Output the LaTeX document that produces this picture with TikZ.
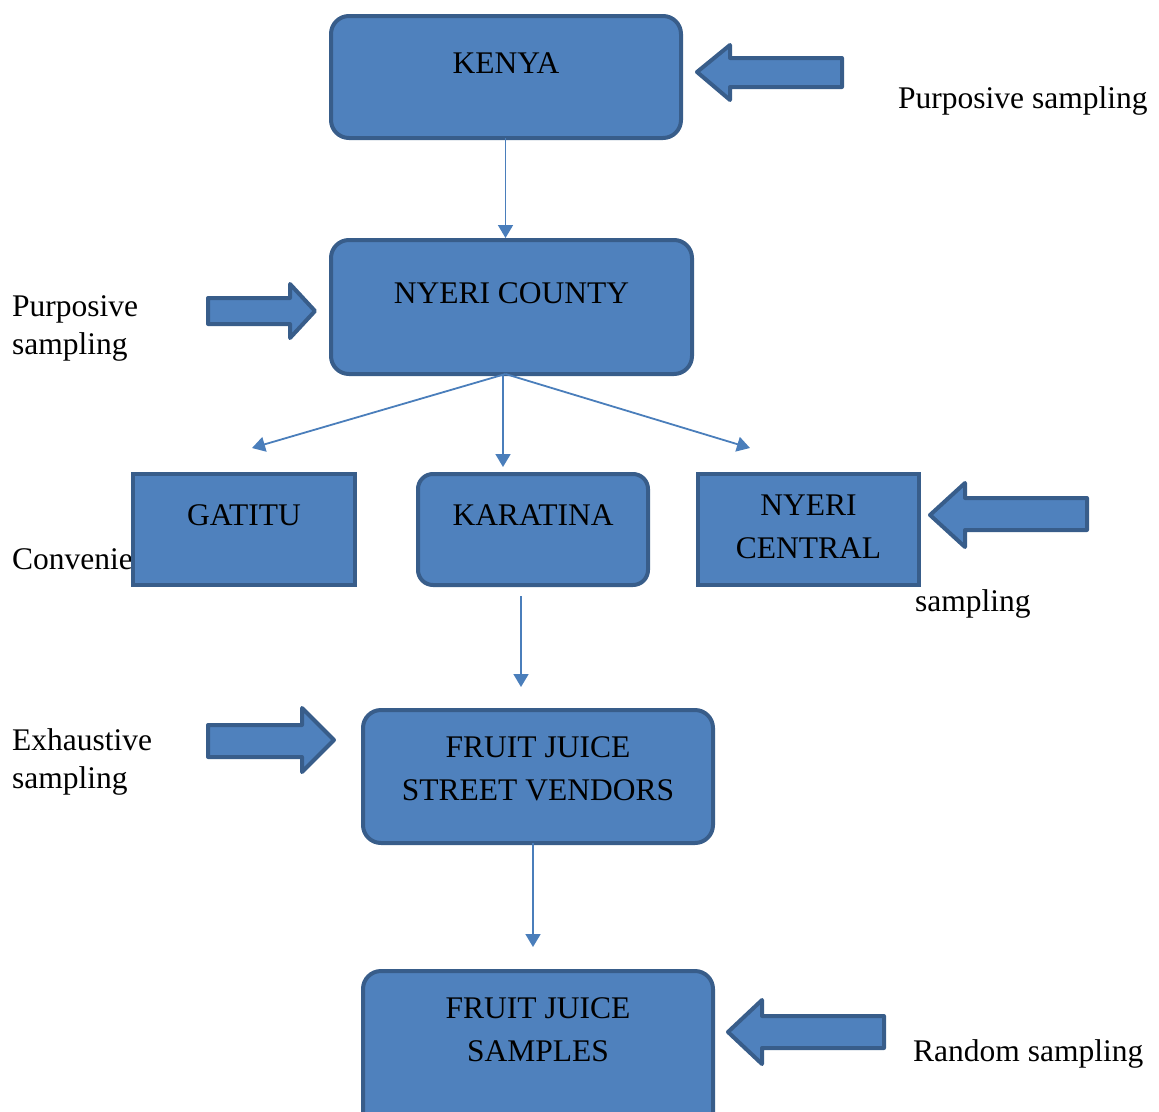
\documentclass[tikz,border=0pt]{standalone}
\usepackage{fontspec}
\setmainfont{Liberation Serif}
\usetikzlibrary{arrows.meta,calc}
\definecolor{boxfill}{HTML}{4F81BD}
\definecolor{boxline}{HTML}{385D8A}
\definecolor{link}{HTML}{4A7EBB}

\begin{document}
\begin{tikzpicture}[x=1pt,y=-1pt,
  font=\fontsize{31.5}{37.5}\selectfont,
  blk/.style={draw=boxline,fill=boxfill,line width=4pt,rounded corners=18pt,
              inner sep=0pt,outer sep=0pt,anchor=north west,align=center,
              font=\fontsize{31.5}{42.5}\selectfont},
  sq/.style={blk,rounded corners=0pt},
  lbl/.style={anchor=base west,align=left,inner sep=0pt},
  a/.style={-{Triangle[length=13pt,width=15pt]},link,line width=1.8pt},
  fat/.style={draw=boxline,fill=boxfill,line width=4pt,line join=round}]
\useasboundingbox (0,0) rectangle (1159,1111);
% side labels (drawn first, the Gatitu box covers part of one)
\node[lbl](lkenya) at (898,108){Purposive sampling};
\node[lbl](lcounty) at (12,354){Purposive\\sampling};
\node[lbl](lconv) at (12,569){Convenience};
\node[lbl](lsamp) at (915,611){sampling};
\node[lbl](lexh) at (12,788){Exhaustive\\sampling};
\node[lbl](lrand) at (913,1061){Random sampling};
% boxes, top to bottom
\node[blk,minimum width=350,text height=57,text depth=65](kenya) at (331,16){KENYA};
\node[blk,minimum width=361,text height=63,text depth=71](county) at (331,240){NYERI COUNTY};
\node[sq,minimum width=222,text height=51,text depth=60](gat) at (133,474){GATITU};
\node[blk,rounded corners=15pt,minimum width=230,text height=51,text depth=60](kar) at (418,474){KARATINA};
\node[sq,minimum width=221,text height=84,text depth=27](cen) at (698,474){NYERI\\CENTRAL};
\node[blk,minimum width=350,text height=90,text depth=43](vend) at (363,710){FRUIT JUICE\\STREET VENDORS};
\node[blk,minimum width=350,text height=90,text depth=69](samp) at (363,971){FRUIT JUICE\\SAMPLES};
% thin connectors
\coordinate (fork) at ($(county.south)+(-6,0)$);
\coordinate (tgat) at (252,448);
\coordinate (tkar) at (503,467);
\coordinate (tcen) at (750,448);
\coordinate (kout) at ($(kar.south)+(-12,11)$);
\coordinate (vin) at ($(vend.north)+(-16,-23)$);
\coordinate (vout) at ($(vend.south)+(-5,0)$);
\coordinate (sin) at ($(samp.north)+(-5,-24)$);
\draw[a](kenya.south-|fork)--([yshift=2pt]county.north-|fork);
\draw[a](fork)--(tgat);
\draw[a](fork-|tkar)--(tkar);
\draw[a](fork)--(tcen);
\draw[a](kout)--(kout|-vin);
\draw[a](vout)--(vout|-sin);
% block arrows
\draw[fat](697,72)--(730,45)--(730,58)--(842,58)--(842,87)--(730,87)--(730,100)--cycle;
\draw[fat](315,311)--(290,284)--(290,298)--(208,298)--(208,324)--(290,324)--(290,338)--cycle;
\draw[fat](930,515)--(965,483)--(965,498)--(1087,498)--(1087,530)--(965,530)--(965,547)--cycle;
\draw[fat](334,740)--(302,708)--(302,725)--(208,725)--(208,757)--(302,757)--(302,772)--cycle;
\draw[fat](728,1032)--(762,1000)--(762,1016)--(884,1016)--(884,1048)--(762,1048)--(762,1064)--cycle;
\end{tikzpicture}
\end{document}
